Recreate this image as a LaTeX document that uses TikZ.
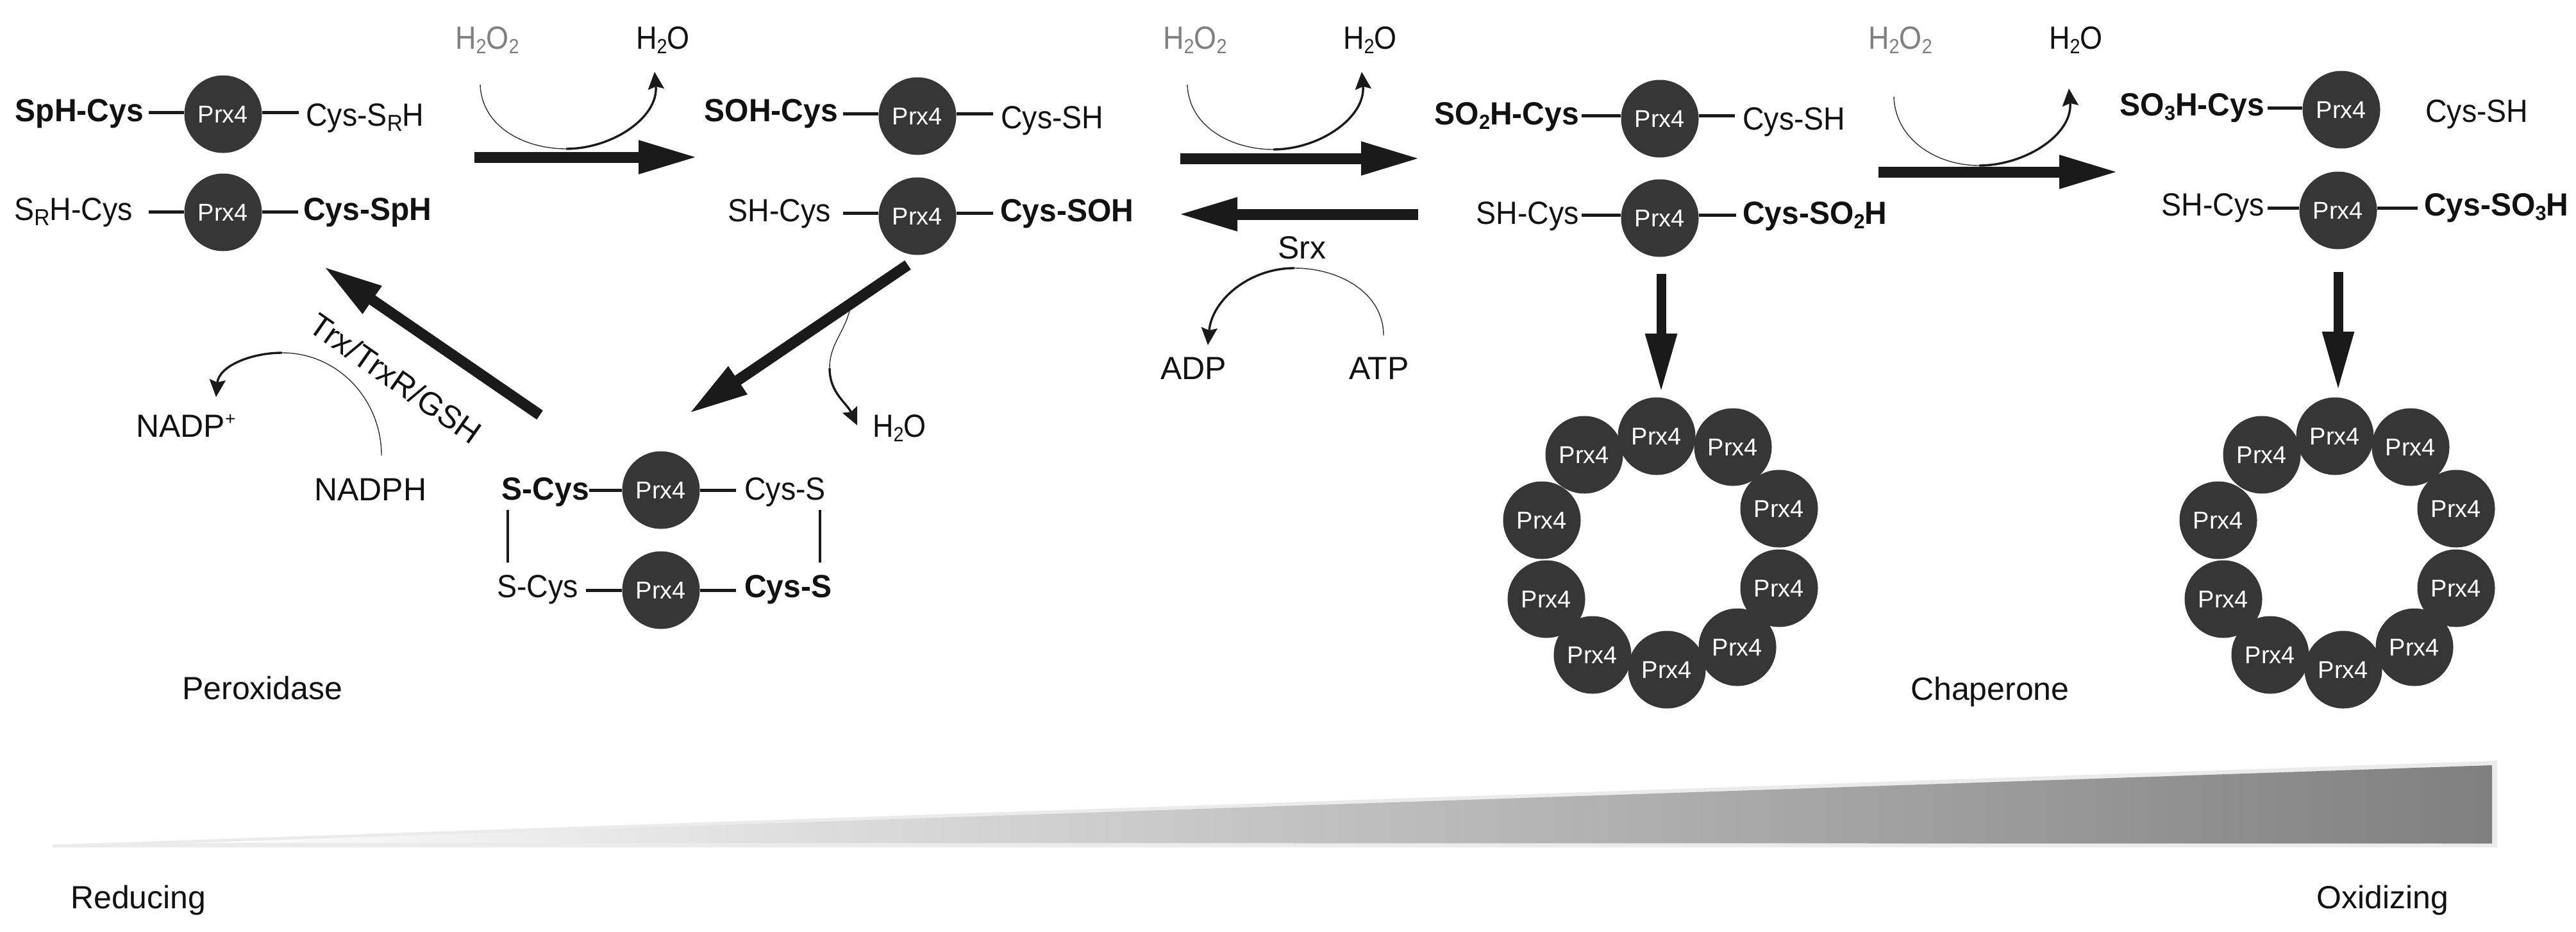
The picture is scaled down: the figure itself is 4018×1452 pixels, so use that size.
\documentclass[tikz,border=0pt]{standalone}
\usepackage{fontspec}
\setmainfont{Liberation Sans}
\usetikzlibrary{arrows.meta}
\definecolor{ball}{HTML}{363636}
\definecolor{ink}{HTML}{1A1A1A}
\definecolor{txt}{HTML}{111111}
\newcommand\sbs[1]{\raisebox{-7pt}{\fontsize{32}{32}\selectfont #1}}
\newcommand\supplus{\raisebox{19pt}{\fontsize{28}{28}\selectfont +}}
\newcommand\srr{\raisebox{-8pt}{\fontsize{36}{36}\selectfont R}}
\newcommand\hh[1]{\scalebox{.9}[1]{#1}}
\newcommand\rg[1]{\scalebox{.93}[1]{#1}}
\newcommand\bd[1]{\scalebox{.96}[1]{#1}}
% tapered reaction curve: thin first half, heavier second half with head
\newcommand\reactcurve[7]{%
  \draw[curvethin] (#1) to[out=#4,in=#5] (#2);
  \draw[curvethick] (#2) to[out=#6,in=#7] (#3);}
% side bonds: text node, ball node, height, gap to the text
\newcommand\bondL[4]{\draw[bond,shorten <=#4pt] (#1.east |- 0,#3) -- (#2.west |- 0,#3);}
\newcommand\bondR[4]{\draw[bond,shorten >=#4pt] (#2.east |- 0,#3) -- (#1.west |- 0,#3);}
\tikzset{
  x=1pt,y=-1pt,
  prx/.style={circle,fill=ball,minimum size=121pt,inner sep=0pt,text=white,font=\fontsize{38}{40}\selectfont},
  lab/.style={inner sep=0pt,text=txt,font=\fontsize{50}{60}\selectfont},
  labb/.style={inner sep=0pt,text=txt,font=\fontsize{50}{60}\selectfont\bfseries},
  gray text/.style={inner sep=0pt,text=black!50,font=\fontsize{50}{60}\selectfont},
  bond/.style={draw=ink,line width=5pt},
  link/.style={draw=ink,line width=4pt},
  bigarrow/.style={draw=ink,line width=17pt,-{Triangle[length=93pt,width=48pt]}},
  downarrow/.style={draw=ink,line width=15pt,-{Triangle[length=92pt,width=46pt]}},
  curvethin/.style={draw=black!80,line width=1.4pt},
  curvethick/.style={draw=ink,line width=3.4pt,-{Stealth[length=27pt,width=25pt,inset=4pt]}},
}
\begin{document}
\begin{tikzpicture}
\useasboundingbox (0,0) rectangle (4018,1452);
\fill[white] (0,0) rectangle (4018,1452);

% ---------- group 1
\node[prx] (p1) at (348,178) {Prx4};
\node[prx] (p2) at (348,331) {Prx4};
\node[labb,anchor=base east] (t1l) at (224,189) {\bd{SpH-Cys}};
\node[lab,anchor=base west] (t1r) at (477,196) {\rg{Cys-S\srr H}};
\node[lab,anchor=base east] (t2l) at (207,343) {\rg{S\srr H-Cys}};
\node[labb,anchor=base west] (t2r) at (473,343) {\bd{Cys-SpH}};
\bondL{t1l}{p1}{175}{8}\bondR{t1r}{p1}{175}{11}
\bondL{t2l}{p2}{330}{25}\bondR{t2r}{p2}{330}{8}

% ---------- group 2
\node[prx] (p3) at (1431,181) {Prx4};
\node[prx] (p4) at (1431,337) {Prx4};
\node[labb,anchor=base east] (t3l) at (1307,189) {\bd{SOH-Cys}};
\node[lab,anchor=base west] (t3r) at (1561,200) {\rg{Cys-SH}};
\node[lab,anchor=base east] (t4l) at (1296,345) {\rg{SH-Cys}};
\node[labb,anchor=base west] (t4r) at (1560,345) {\bd{Cys-SOH}};
\bondL{t3l}{p3}{177}{8}\bondR{t3r}{p3}{177}{12}
\bondL{t4l}{p4}{332}{19}\bondR{t4r}{p4}{332}{11}

% ---------- group 3 (oxidised disulfide)
\node[prx] (p5) at (1031,764) {Prx4};
\node[prx] (p6) at (1031,920) {Prx4};
\node[labb,anchor=base east] (t5l) at (919,779) {\bd{S-Cys}};
\node[lab,anchor=base west] (t5r) at (1161,779) {\rg{Cys-S}};
\node[lab,anchor=base east] (t6l) at (902,931) {\rg{S-Cys}};
\node[labb,anchor=base west] (t6r) at (1161,931) {\bd{Cys-S}};
\bondL{t5l}{p5}{764}{0}\bondR{t5r}{p5}{764}{13}
\bondL{t6l}{p6}{920}{12}\bondR{t6r}{p6}{920}{13}
\coordinate (sl1) at (792,795); \coordinate (sl2) at (792,877);
\coordinate (sr1) at (1279,795); \coordinate (sr2) at (1279,877);
\draw[link] (sl1) -- (sl2);
\draw[link] (sr1) -- (sr2);

% ---------- group 4
\node[prx] (p7) at (2589,185) {Prx4};
\node[prx] (p8) at (2589,340) {Prx4};
\node[labb,anchor=base east] (t7l) at (2463,194) {\bd{SO\sbs{2}H-Cys}};
\node[lab,anchor=base west] (t7r) at (2718,202) {\rg{Cys-SH}};
\node[lab,anchor=base east] (t8l) at (2463,349) {\rg{SH-Cys}};
\node[labb,anchor=base west] (t8r) at (2718,349) {\bd{Cys-SO\sbs{2}H}};
\bondL{t7l}{p7}{180}{4}\bondR{t7r}{p7}{180}{12}
\bondL{t8l}{p8}{335}{4}\bondR{t8r}{p8}{335}{10}

% ---------- group 5
\node[prx] (p9) at (3652,171) {Prx4};
\node[prx] (p10) at (3647,328) {Prx4};
\node[labb,anchor=base east] (t9l) at (3532,180) {\bd{SO\sbs{3}H-Cys}};
\node[lab,anchor=base west] (t9r) at (3783,190) {\rg{Cys-SH}};
\node[lab,anchor=base east] (t10l) at (3532,336) {\rg{SH-Cys}};
\node[labb,anchor=base west] (t10r) at (3781,336) {\bd{Cys-SO\sbs{3}H}};
\bondL{t9l}{p9}{168}{5}
\bondL{t10l}{p10}{324}{5}\bondR{t10r}{p10}{324}{10}

% ---------- rings
\foreach \i/\x/\y in {1/2584/680,2/2703/697,3/2775/793,4/2775/917,5/2710/1009,6/2600/1044,7/2484/1021,8/2412/934,9/2405/811,10/2471/709}
  \node[prx] (ra\i) at (\x,\y) {Prx4};
\foreach \i/\x/\y in {1/3642/680,2/3760/697,3/3831/793,4/3831/917,5/3766/1009,6/3655/1044,7/3541/1021,8/3468/934,9/3460/811,10/3528/709}
  \node[prx] (rb\i) at (\x,\y) {Prx4};

% ---------- species above arrows
\node[gray text,anchor=base west] (hp1) at (710,76) {\hh{H\sbs{2}O\sbs{2}}};
\node[lab,anchor=base west] (w1) at (992,76) {\hh{H\sbs{2}O}};
\node[gray text,anchor=base west] (hp2) at (1814,76) {\hh{H\sbs{2}O\sbs{2}}};
\node[lab,anchor=base west] (w2) at (2095,76) {\hh{H\sbs{2}O}};
\node[gray text,anchor=base west] (hp3) at (2914,76) {\hh{H\sbs{2}O\sbs{2}}};
\node[lab,anchor=base west] (w3) at (3196,76) {\hh{H\sbs{2}O}};
\node[lab,anchor=base west] (w4) at (1361,681) {\hh{H\sbs{2}O}};
\node[lab,anchor=base] (srx) at (2031,403) {Srx};
\node[lab,anchor=base west] (adp) at (1810,591) {ADP};
\node[lab,anchor=base west] (atp) at (2104,591) {ATP};
\node[lab,anchor=base west] (nadpp) at (212,681) {NADP\supplus};
\node[lab,anchor=base west] (nadph) at (490,780) {NADPH};
\node[lab,rotate=-35] (trx) at (617,590) {Trx/TrxR/GSH};
\node[lab,anchor=base west] (perox) at (284,1090) {Peroxidase};
\node[lab,anchor=base west] (chap) at (2980,1091) {Chaperone};
\node[lab,anchor=base west] (red) at (110,1416) {Reducing};
\node[lab,anchor=base west] (oxi) at (3613,1416) {Oxidizing};

% ---------- thick arrows
\coordinate (a1s) at (740,245); \coordinate (a1e) at (1089,245);
\coordinate (a2s) at (1841,247); \coordinate (a2e) at (2216,247);
\coordinate (a3s) at (2212,334); \coordinate (a3e) at (1837,334);
\coordinate (a4s) at (2930,268); \coordinate (a4e) at (3305,268);
\coordinate (a5s) at (1416,413); \coordinate (a5e) at (1074,645);
\coordinate (a6s) at (842,647); \coordinate (a6e) at (504,415);
\coordinate (a7s) at (2591,427); \coordinate (a7e) at (2591,612);
\coordinate (a8s) at (3647,424); \coordinate (a8e) at (3647,609);
\draw[bigarrow] (a1s) -- (a1e);
\draw[bigarrow] (a2s) -- (a2e);
\draw[bigarrow] (a3s) -- (a3e);
\draw[bigarrow] (a4s) -- (a4e);
\draw[bigarrow] (a5s) -- (a5e);
\draw[bigarrow] (a6s) -- (a6e);
\draw[downarrow] (a7s) -- (a7e);
\draw[downarrow] (a8s) -- (a8e);

% ---------- reaction curves
\coordinate (c1a) at (749,132); \coordinate (c1b) at (883,232); \coordinate (c1c) at (1021,112);
\reactcurve{c1a}{c1b}{c1c}{-88}{180}{0}{-85}
\coordinate (c2a) at (1852,132); \coordinate (c2b) at (1986,233); \coordinate (c2c) at (2124,112);
\reactcurve{c2a}{c2b}{c2c}{-88}{180}{0}{-85}
\coordinate (c3a) at (2954,151); \coordinate (c3b) at (3087,258); \coordinate (c3c) at (3227,138);
\reactcurve{c3a}{c3b}{c3c}{-88}{180}{0}{-85}
\coordinate (c4a) at (2158,523); \coordinate (c4b) at (2019,418); \coordinate (c4c) at (1884,538);
\reactcurve{c4a}{c4b}{c4c}{90}{0}{180}{85}
\coordinate (c5a) at (595,710); \coordinate (c5b) at (440,550); \coordinate (c5c) at (337,619);
\reactcurve{c5a}{c5b}{c5c}{90}{0}{180}{85}
\coordinate (c6a) at (1325,485); \coordinate (c6b) at (1294,574); \coordinate (c6c) at (1337,663);
\reactcurve{c6a}{c6b}{c6c}{-105}{90}{-90}{115}

% ---------- gradient wedge
\fill[black!8] (82,1317) -- (3895,1186) -- (3895,1321) -- (82,1321) -- cycle;
\shade[left color=white,right color=black!50] (302,1314) -- (3887,1193) -- (3887,1315) -- cycle;
\end{tikzpicture}
\end{document}
